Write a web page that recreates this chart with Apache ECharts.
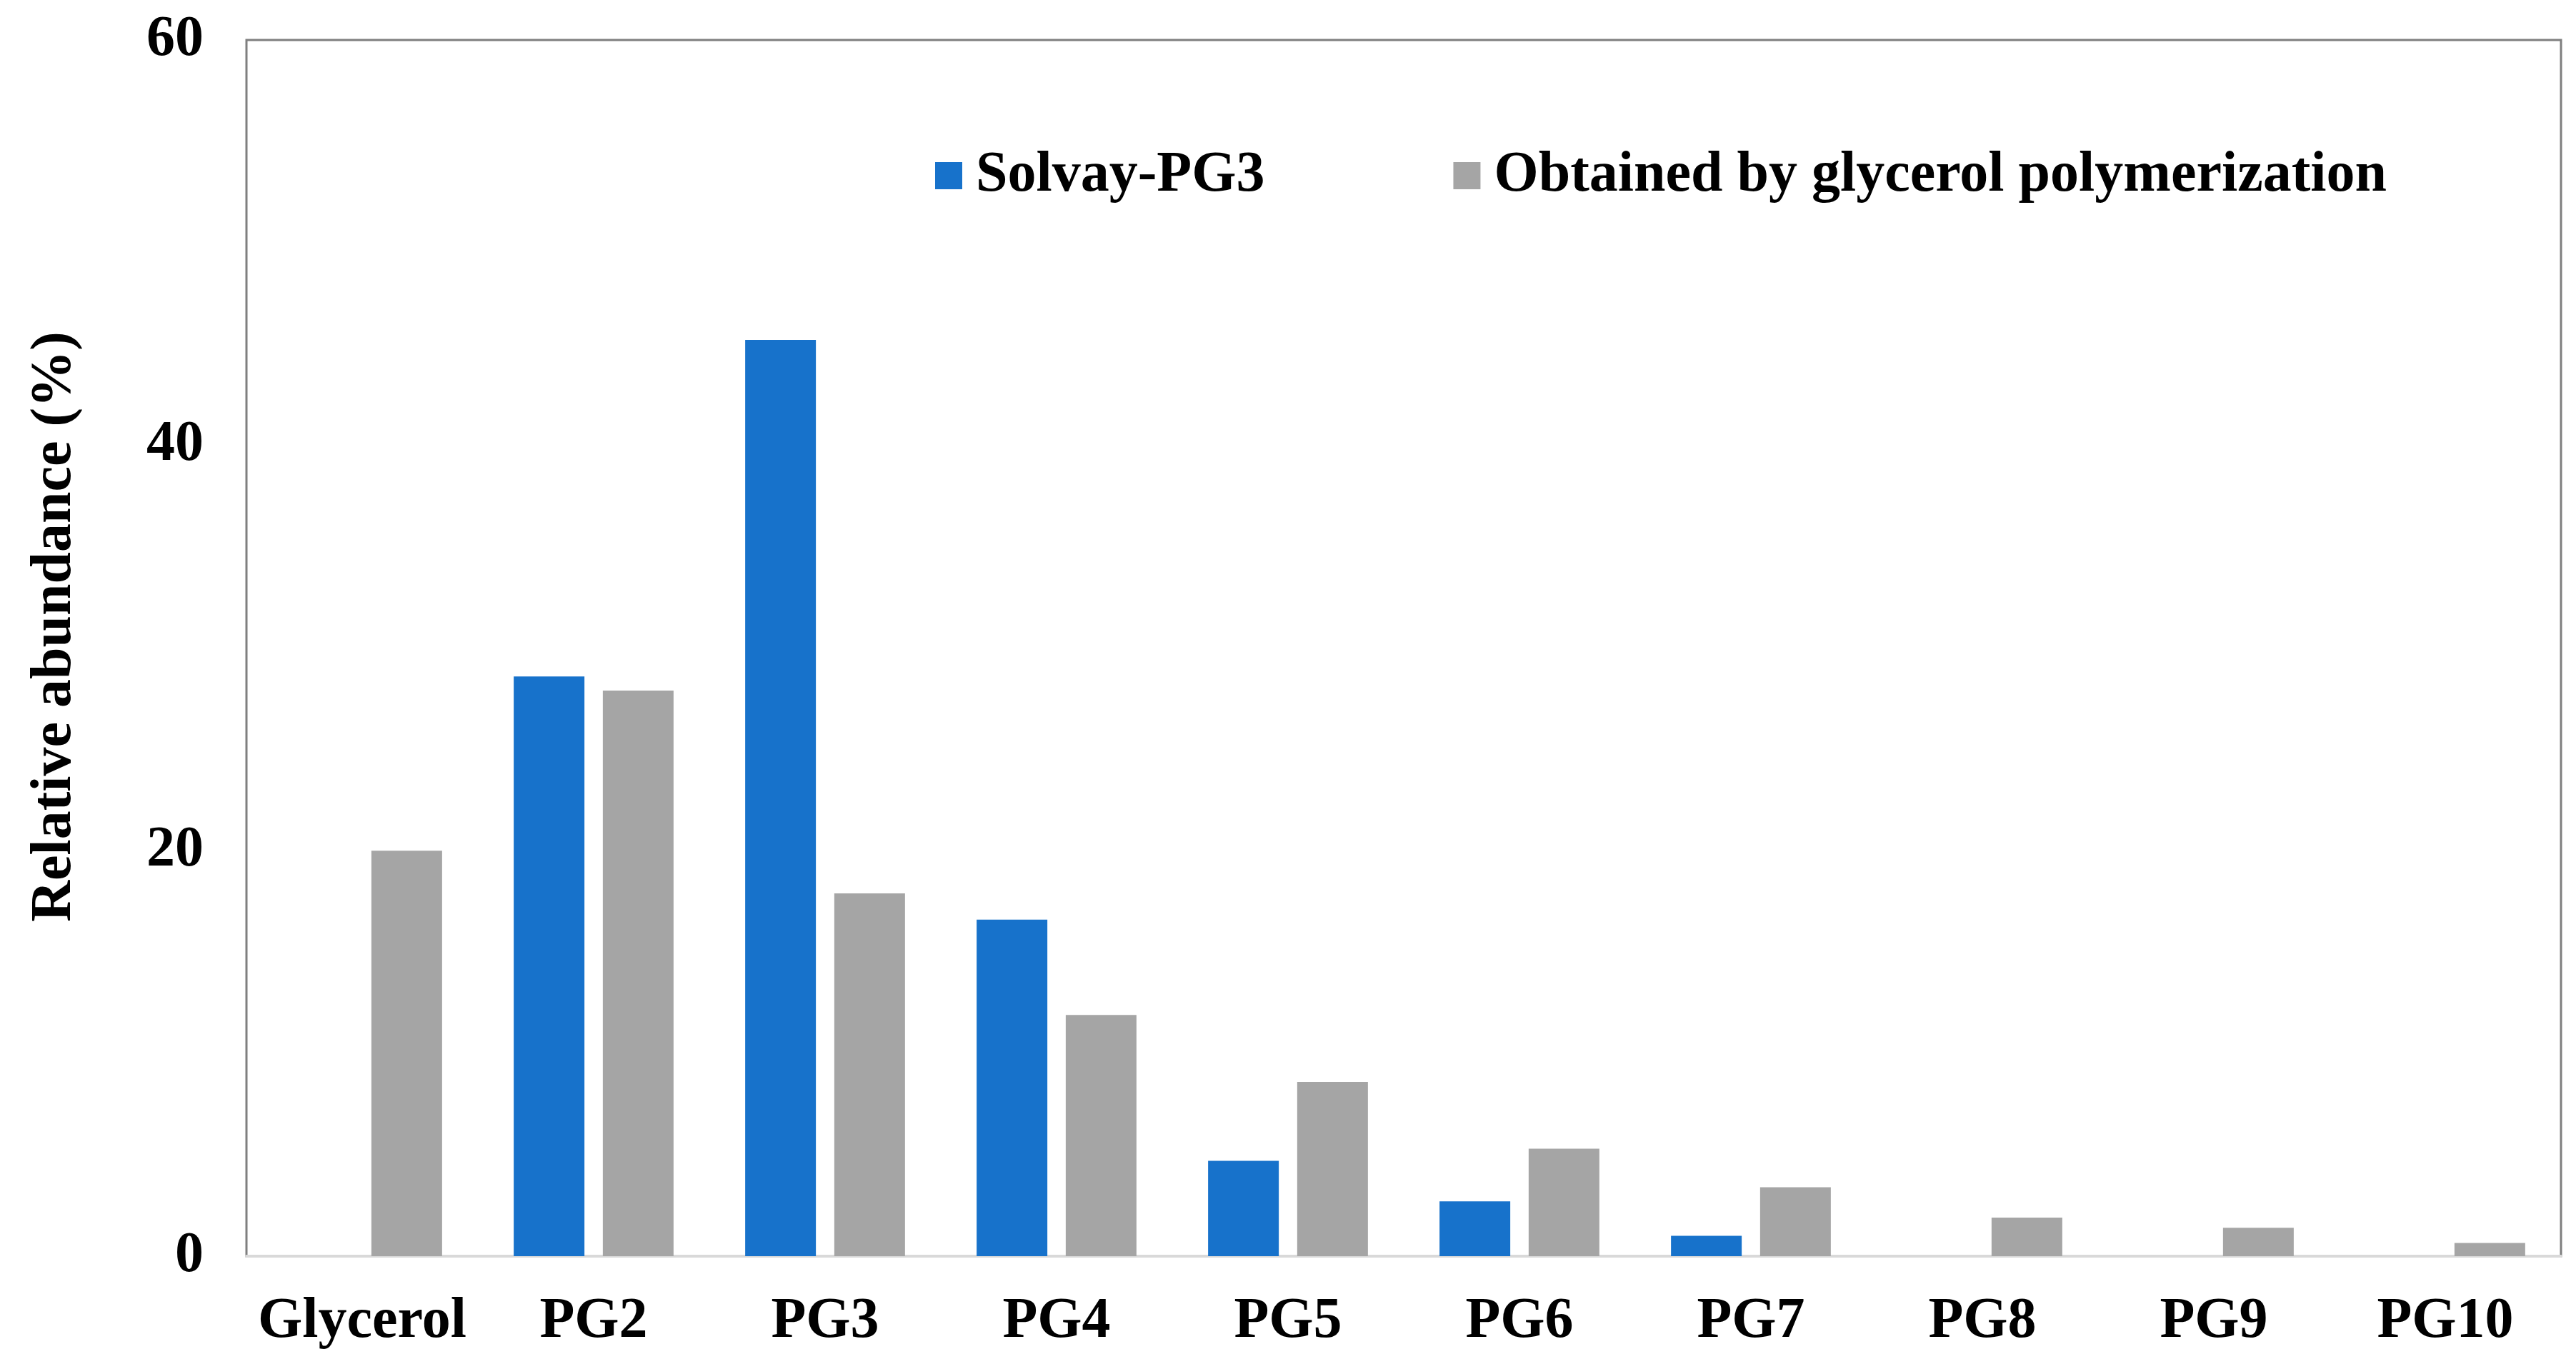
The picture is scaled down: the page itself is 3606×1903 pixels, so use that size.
<!DOCTYPE html>
<html>
<head>
<meta charset="utf-8">
<script src="https://cdn.jsdelivr.net/npm/echarts@6/dist/echarts.min.js"></script>
<style>
  html, body { margin: 0; padding: 0; background: #fff; }
  #chart { width: 3606px; height: 1903px; }
</style>
</head>
<body>
<div id="chart"></div>
<script>
'use strict';

// categories on the x axis
var categories = ['Glycerol', 'PG2', 'PG3', 'PG4', 'PG5', 'PG6', 'PG7', 'PG8', 'PG9', 'PG10'];
// relative abundance (%)
var solvayPG3 = [0, 28.6, 45.2, 16.6, 4.7, 2.7, 1.0, 0, 0, 0];
var obtainedByPolym = [20.0, 27.9, 17.9, 11.9, 8.6, 5.3, 3.4, 1.9, 1.4, 0.65];
var seriesNames = ['Solvay-PG3', 'Obtained by glycerol polymerization'];

var font = '"Liberation Serif", "Times New Roman", serif';

var chart = echarts.init(document.getElementById('chart'));
var option = {
    backgroundColor: '#ffffff',
    animation: false,
    textStyle: { fontFamily: font },
    grid: {
        left: 345,
        right: 21,
        top: 56,
        bottom: 144,
        show: true,
        borderColor: '#7f7f7f',
        borderWidth: 3
    },
    legend: {
        left: 1304,
        top: 201,
        icon: 'rect',
        itemWidth: 38,
        itemHeight: 38,
        itemGap: 264,
        textStyle: {
            fontFamily: font,
            fontWeight: 'bold',
            fontSize: 80,
            color: '#000',
            padding: [0, 0, 0, 14]
        },
        data: seriesNames
    },
    xAxis: {
        type: 'category',
        data: categories,
        axisLine: { lineStyle: { color: '#d9d9d9', width: 4 } },
        axisTick: { show: false },
        axisLabel: {
            fontFamily: font,
            fontWeight: 'bold',
            fontSize: 80,
            color: '#000',
            margin: 52,
            interval: 0
        }
    },
    yAxis: {
        type: 'value',
        min: 0,
        max: 60,
        interval: 20,
        name: 'Relative abundance (%)',
        nameLocation: 'middle',
        nameGap: 228,
        nameTextStyle: {
            fontFamily: font,
            fontWeight: 'bold',
            fontSize: 80,
            color: '#000',
            padding: [0, 0, 0, 60]
        },
        axisLine: { show: false },
        axisTick: { show: false },
        splitLine: { show: false },
        axisLabel: {
            fontFamily: font,
            fontWeight: 'bold',
            fontSize: 80,
            color: '#000',
            margin: 60
        }
    },
    series: [{
        name: seriesNames[0],
        type: 'bar',
        data: solvayPG3,
        barWidth: 99,
        barGap: '26%',
        itemStyle: { color: '#1772CB' }
    }, {
        name: seriesNames[1],
        type: 'bar',
        data: obtainedByPolym,
        barWidth: 99,
        itemStyle: { color: '#A5A5A5' }
    }]
};
chart.setOption(option);
</script>
</body>
</html>
